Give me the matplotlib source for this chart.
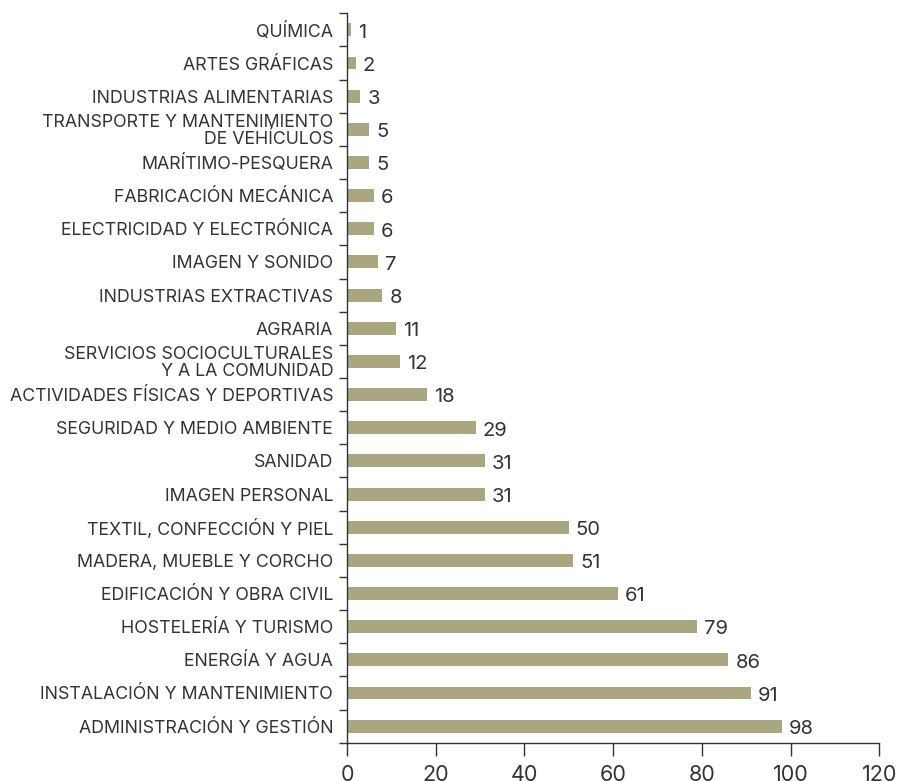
import matplotlib.pyplot as plt
import numpy as np
from matplotlib.ticker import FixedLocator, MultipleLocator

plt.rcParams['font.family'] = ['Inter', 'DejaVu Sans']

BAR_COLOR = '#aaa780'
TEXT_COLOR = '#333333'

families = [
    'ADMINISTRACIÓN Y GESTIÓN',
    'INSTALACIÓN Y MANTENIMIENTO',
    'ENERGÍA Y AGUA',
    'HOSTELERÍA Y TURISMO',
    'EDIFICACIÓN Y OBRA CIVIL',
    'MADERA, MUEBLE Y CORCHO',
    'TEXTIL, CONFECCIÓN Y PIEL',
    'IMAGEN PERSONAL',
    'SANIDAD',
    'SEGURIDAD Y MEDIO AMBIENTE',
    'ACTIVIDADES FÍSICAS Y DEPORTIVAS',
    'SERVICIOS SOCIOCULTURALES\nY A LA COMUNIDAD',
    'AGRARIA',
    'INDUSTRIAS EXTRACTIVAS',
    'IMAGEN Y SONIDO',
    'ELECTRICIDAD Y ELECTRÓNICA',
    'FABRICACIÓN MECÁNICA',
    'MARÍTIMO-PESQUERA',
    'TRANSPORTE Y MANTENIMIENTO\nDE VEHÍCULOS',
    'INDUSTRIAS ALIMENTARIAS',
    'ARTES GRÁFICAS',
    'QUÍMICA',
]
counts = [98, 91, 86, 79, 61, 51, 50, 31, 31, 29, 18, 12, 11, 8, 7, 6, 6, 5, 5, 3, 2, 1]
x_ticks = [0, 20, 40, 60, 80, 100, 120]

fig = plt.figure(figsize=(8.99, 7.81), dpi=100)
ax = fig.add_axes([0.386, 0.049, 0.592, 0.934])

y = np.arange(len(families))
ax.barh(y, counts, height=0.39, color=BAR_COLOR)

for yi, v in zip(y, counts):
    ax.annotate(
        str(v), (v, yi), xytext=(5, -2), textcoords='offset points',
        ha='left', va='center', fontsize=14.5, color=TEXT_COLOR,
    )

ax.set_xlim(0, 120)
ax.set_ylim(-0.5, len(families) - 0.5)
ax.xaxis.set_major_locator(FixedLocator(x_ticks))
ax.set_xticklabels([str(t) for t in x_ticks])

ax.set_yticks(y)
ax.set_yticklabels(families, linespacing=0.95)
ax.yaxis.set_minor_locator(MultipleLocator(1, offset=0.5))

for side in ('top', 'right'):
    ax.spines[side].set_visible(False)
for side in ('left', 'bottom'):
    ax.spines[side].set_color(TEXT_COLOR)
    ax.spines[side].set_linewidth(1.0)

ax.tick_params(axis='y', which='major', length=0, pad=10,
               labelsize=12.8, labelcolor=TEXT_COLOR)
ax.tick_params(axis='y', which='minor', length=5.5, width=1.0,
               color=TEXT_COLOR, direction='out')
ax.tick_params(axis='x', which='major', length=9, width=1.0,
               color=TEXT_COLOR, pad=7, labelsize=15.5, labelcolor=TEXT_COLOR)

fig.savefig('out.png', dpi=100)
